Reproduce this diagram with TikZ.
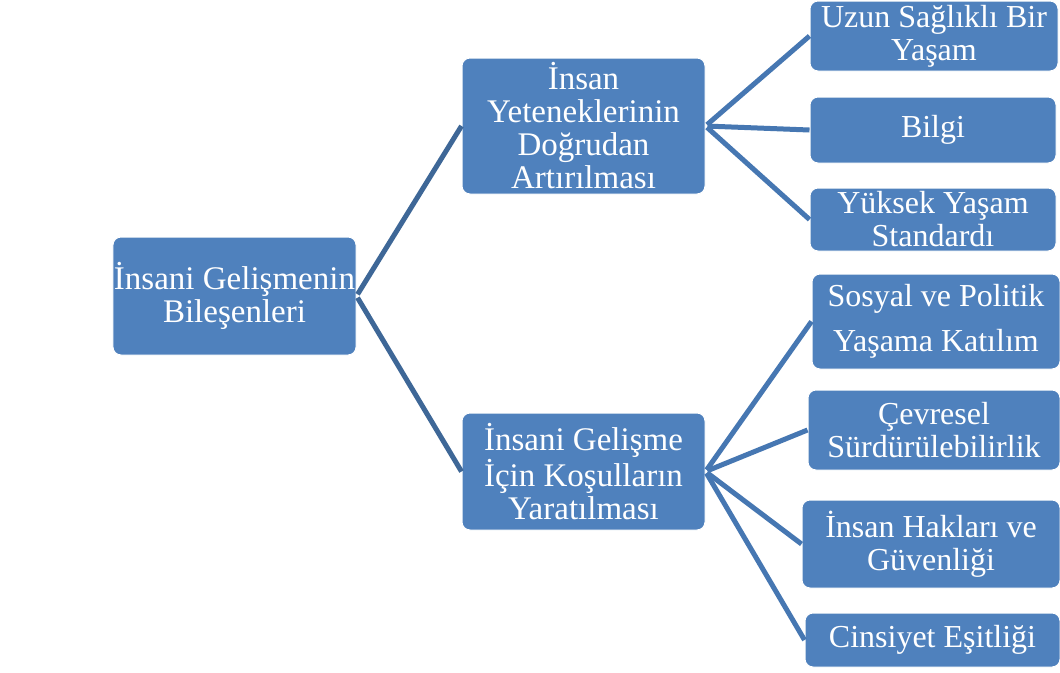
\documentclass[tikz,border=0pt]{standalone}
\usepackage{fontspec}
\setmainfont{Liberation Serif}
\usepackage{tikz}
\usetikzlibrary{
  positioning
}
\definecolor{boxblue}{HTML}{4F81BD}
\definecolor{linkblue}{HTML}{4677B2}
\definecolor{trunkblue}{HTML}{3E6797}
\definecolor{paper}{HTML}{FFFFFF}
\tikzset{
  branch/.style={
    line width=5pt,
    draw=linkblue,
    shorten <=2pt
  },
  trunk/.style={
    branch,
    draw=trunkblue
  },
  topic/.style={
    draw=paper,
    fill=boxblue,
    line width=1pt,
    rounded corners=8pt,
    text=white,
    align=center,
    inner sep=1pt,
    font=\fontsize{33}{33}\selectfont
  },
  leaf/.style={
    topic,
    font=\fontsize{32}{33}\selectfont
  }
}

\begin{document}
\begin{tikzpicture}[x=1pt, y=-1pt]
    \useasboundingbox[fill=paper] (0,0) rectangle (1060,672);
    % root
    \node[topic, minimum width=243pt, minimum height=118pt] (root) at (234.5,296)
      {İnsani Gelişmenin\\Bileşenleri};
    % second level
    \node[topic, minimum width=243pt, minimum height=136pt] (direct) at (583.5,126)
      {İnsan\\Yeteneklerinin\\Doğrudan\\Artırılması};
    \node[topic, minimum width=243pt, minimum height=117pt] (cond) at (583.5,471.5)
      {İnsani Gelişme\\İçin Koşulların\\Yaratılması};
    % leaves
    \node[leaf, minimum width=248pt, minimum height=70pt] (health) at (934,36)
      {Uzun Sağlıklı Bir\\Yaşam};
    \node[leaf, minimum width=246pt, minimum height=66pt] (know) at (933,130)
      {Bilgi};
    \node[leaf, minimum width=246pt, minimum height=63pt] (living) at (933,219.5)
      {Yüksek Yaşam\\Standardı};
    \node[leaf, minimum width=248pt, minimum height=95pt,
      font=\fontsize{32}{45}\selectfont] (social) at (936,321.5)
      {Sosyal ve Politik\\Yaşama Katılım};
    \node[leaf, minimum width=252pt, minimum height=80pt] (env) at (934,430)
      {Çevresel\\Sürdürülebilirlik};
    \node[leaf, minimum width=258pt, minimum height=88pt] (rights) at (931,544)
      {İnsan Hakları ve\\Güvenliği};
    \node[leaf, minimum width=255pt, minimum height=54pt] (gender) at (932.5,640)
      {Cinsiyet Eşitliği};
    % links
    \draw[trunk] (root.east) -- (direct.west);
    \draw[trunk] (root.east) -- (cond.west);
    \foreach \leaf in {health, know, living}
      \draw[branch] (direct.east) -- (\leaf.west);
    \foreach \leaf in {social, env, rights, gender}
      \draw[branch] (cond.east) -- (\leaf.west);
  \end{tikzpicture}
\end{document}
